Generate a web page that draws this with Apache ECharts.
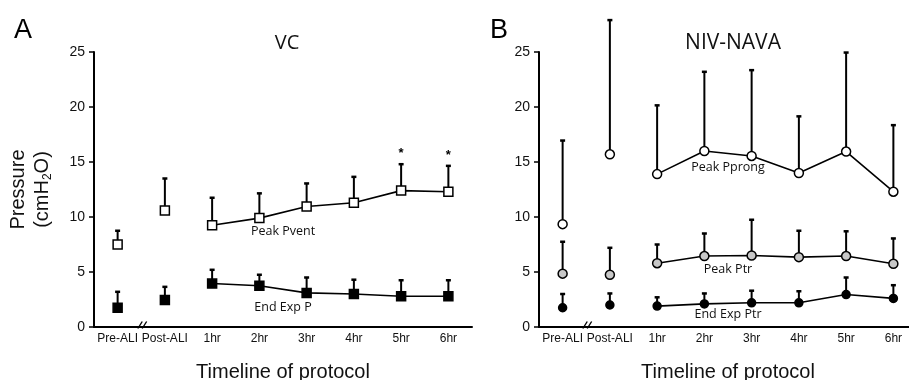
<!DOCTYPE html>
<html><head><meta charset="utf-8">
<script src="https://cdn.jsdelivr.net/npm/echarts@6/dist/echarts.min.js"></script>
<style>html,body{margin:0;padding:0;background:#fff}#c{width:909px;height:380px}</style>
</head><body><div id="c"></div>
<script>
// ---------- data ----------
const categories = ['Pre-ALI', 'Post-ALI', '1hr', '2hr', '3hr', '4hr', '5hr', '6hr'];
const yTicks = [0, 5, 10, 15, 20, 25];
// Panel A: VC
const vcPeakPvent        = [7.5, 10.6, 9.25, 9.9, 10.95, 11.3, 12.4, 12.3];
const vcPeakPventUpper   = [8.75, 13.5, 11.75, 12.15, 13.05, 13.65, 14.8, 14.65];
const vcEndExpP          = [1.75, 2.45, 3.95, 3.75, 3.1, 3.0, 2.8, 2.8];
const vcEndExpPUpper     = [3.2, 3.65, 5.2, 4.75, 4.5, 4.3, 4.25, 4.25];
const vcSignificance     = ['', '', '', '', '', '', '*', '*'];
// Panel B: NIV-NAVA
const navaPeakPprong      = [9.35, 15.7, 13.9, 16.0, 15.55, 14.0, 15.95, 12.3];
const navaPeakPprongUpper = [16.95, 27.9, 20.15, 23.2, 23.35, 19.15, 24.95, 18.35];
const navaPeakPtr         = [4.85, 4.75, 5.8, 6.45, 6.5, 6.35, 6.45, 5.75];
const navaPeakPtrUpper    = [7.75, 7.2, 7.5, 8.5, 9.75, 8.75, 8.7, 8.05];
const navaEndExpPtr       = [1.75, 2.0, 1.9, 2.1, 2.2, 2.2, 2.95, 2.6];
const navaEndExpPtrUpper  = [3.0, 3.05, 2.7, 3.05, 3.3, 3.25, 4.5, 3.8];
const seriesNamesA = ['Peak Pvent', 'End Exp P'];
const seriesNamesB = ['Peak Pprong', 'Peak Ptr', 'End Exp Ptr'];

// ---------- builders ----------
const SANS = '"Liberation Sans", Arial, sans-serif';
const LABELFONT = '"Open Sans", "Noto Sans", sans-serif';
const nBefore = 2; // Pre-ALI and Post-ALI are not connected

function pointSeries(ax, name, vals, symbol, fill, size) {
  const common = {
    xAxisIndex: ax, yAxisIndex: ax, name: name, symbol: symbol, symbolSize: size,
    itemStyle: { color: fill, borderColor: '#000', borderWidth: 1.5, opacity: 1 },
    emphasis: { disabled: true }, z: 5, animation: false, silent: true
  };
  return [
    Object.assign({}, common, {
      type: 'line', data: vals.map((v, i) => i < nBefore ? '-' : v),
      lineStyle: { color: '#000', width: 1.6 }, showSymbol: true, connectNulls: false
    }),
    Object.assign({}, common, {
      type: 'scatter', data: vals.map((v, i) => i < nBefore ? v : '-')
    })
  ];
}

function errorSeries(ax, vals, upper, marks) {
  return {
    type: 'custom', xAxisIndex: ax, yAxisIndex: ax, z: 2, clip: false, silent: true, animation: false,
    data: vals.map((v, i) => [i, v, upper[i]]),
    renderItem(params, api) {
      const i = api.value(0);
      const p0 = api.coord([i, api.value(1)]);
      const p1 = api.coord([i, api.value(2)]);
      const ch = [
        { type: 'line', shape: { x1: p0[0], y1: p0[1], x2: p1[0], y2: p1[1] }, style: { stroke: '#000', lineWidth: 2 } },
        { type: 'line', shape: { x1: p1[0] - 2.5, y1: p1[1], x2: p1[0] + 2.5, y2: p1[1] }, style: { stroke: '#000', lineWidth: 2.5 } }
      ];
      const m = marks ? marks[params.dataIndex] : '';
      if (m) {
        ch.push({ type: 'text', style: { text: m, x: p1[0], y: p1[1] - 4, align: 'center', verticalAlign: 'bottom',
          font: 'bold 13px ' + SANS, fill: '#000' } });
      }
      return { type: 'group', children: ch };
    }
  };
}

function decorSeries(ax, notes) {
  return {
    type: 'custom', xAxisIndex: ax, yAxisIndex: ax, z: 6, clip: false, silent: true, animation: false,
    data: [[0, 0]],
    renderItem(params, api) {
      const a = api.coord([0, 0]), b = api.coord([1, 0]);
      const cx = (a[0] + b[0]) / 2 + 1, y0 = a[1];
      const ch = [];
      [-2.2, 2.2].forEach(d => ch.push({ type: 'line',
        shape: { x1: cx + d - 2.2, y1: y0 + 1.5, x2: cx + d + 2.2, y2: y0 - 5.5 },
        style: { stroke: '#000', lineWidth: 1.4 } }));
      notes.forEach(n => {
        const p = api.coord([n.from, n.y]), q = api.coord([n.to, n.y]);
        ch.push({ type: 'text', style: { text: n.text, x: (p[0] + q[0]) / 2, y: p[1], align: 'center', verticalAlign: 'middle',
          font: '12.5px ' + LABELFONT, fill: '#111' } });
      });
      return { type: 'group', children: ch };
    }
  };
}

function xAxisOf(gi) {
  return {
    type: 'category', gridIndex: gi, data: categories, boundaryGap: true,
    axisLine: { lineStyle: { color: '#000', width: 2 } },
    axisTick: { show: false },
    axisLabel: { interval: 0, margin: 6, fontSize: 12, fontFamily: SANS, color: '#111' },
    name: 'Timeline of protocol', nameLocation: 'middle', nameGap: 35,
    nameTextStyle: { fontSize: 20, fontFamily: SANS, color: '#111' },
    splitLine: { show: false }
  };
}
function yAxisOf(gi, withName) {
  const ax = {
    type: 'value', gridIndex: gi, min: yTicks[0], max: yTicks[yTicks.length - 1], interval: yTicks[1] - yTicks[0],
    axisLine: { show: true, lineStyle: { color: '#000', width: 2 } },
    axisTick: { show: true, length: 5, lineStyle: { color: '#000', width: 1.5 } },
    axisLabel: { margin: 9, fontSize: 14, fontFamily: SANS, color: '#111' },
    splitLine: { show: false }
  };
  if (withName) {
    Object.assign(ax, {
      name: 'Pressure\n(cmH{sub|2}O)', nameLocation: 'middle', nameGap: 40, nameRotate: 90,
      nameTextStyle: { fontSize: 20, fontFamily: SANS, color: '#111', lineHeight: 24,
        rich: { sub: { fontSize: 12, fontFamily: SANS, color: '#111', verticalAlign: 'bottom', lineHeight: 24, padding: [10, 0, 0, 0] } } }
    });
  }
  return ax;
}

const option = {
  backgroundColor: '#fff',
  animation: false,
  title: [
    { text: 'A', left: 14, top: 17, padding: 0, textStyle: { fontSize: 27, fontWeight: 'normal', fontFamily: SANS, color: '#000' } },
    { text: 'B', left: 490, top: 17, padding: 0, textStyle: { fontSize: 27, fontWeight: 'normal', fontFamily: SANS, color: '#000' } },
    { text: 'VC', left: 287, top: 33, textAlign: 'center', padding: 0, textStyle: { fontSize: 20, fontWeight: 'normal', fontFamily: LABELFONT, color: '#111' } },
    { text: 'NIV-NAVA', left: 733, top: 33, textAlign: 'center', padding: 0, textStyle: { fontSize: 21, fontWeight: 'normal', fontFamily: LABELFONT, color: '#111' } }
  ],
  grid: [
    { left: 94, top: 52, width: 378, height: 275, containLabel: false, outerBoundsMode: 'none' },
    { left: 539, top: 52, width: 378, height: 275, containLabel: false, outerBoundsMode: 'none' }
  ],
  xAxis: [xAxisOf(0), xAxisOf(1)],
  yAxis: [yAxisOf(0, true), yAxisOf(1, false)],
  series: [
    errorSeries(0, vcPeakPvent, vcPeakPventUpper, vcSignificance),
    errorSeries(0, vcEndExpP, vcEndExpPUpper, null),
    ...pointSeries(0, seriesNamesA[0], vcPeakPvent, 'rect', '#fff', 9),
    ...pointSeries(0, seriesNamesA[1], vcEndExpP, 'rect', '#000', 9),
    decorSeries(0, [
      { text: seriesNamesA[0], from: 3, to: 4, y: 8.7 },
      { text: seriesNamesA[1], from: 3, to: 4, y: 1.82 }
    ]),
    errorSeries(1, navaPeakPprong, navaPeakPprongUpper, null),
    errorSeries(1, navaPeakPtr, navaPeakPtrUpper, null),
    errorSeries(1, navaEndExpPtr, navaEndExpPtrUpper, null),
    ...pointSeries(1, seriesNamesB[0], navaPeakPprong, 'circle', '#fff', 9),
    ...pointSeries(1, seriesNamesB[1], navaPeakPtr, 'circle', '#c8c8c8', 9),
    ...pointSeries(1, seriesNamesB[2], navaEndExpPtr, 'circle', '#000', 8),
    decorSeries(1, [
      { text: seriesNamesB[0], from: 3, to: 4, y: 14.55 },
      { text: seriesNamesB[1], from: 3, to: 4, y: 5.25 },
      { text: seriesNamesB[2], from: 3, to: 4, y: 1.15 }
    ])
  ]
};
const chart = echarts.init(document.getElementById('c'), null, { renderer: 'canvas' });
chart.setOption(option);
</script>
</body></html>
